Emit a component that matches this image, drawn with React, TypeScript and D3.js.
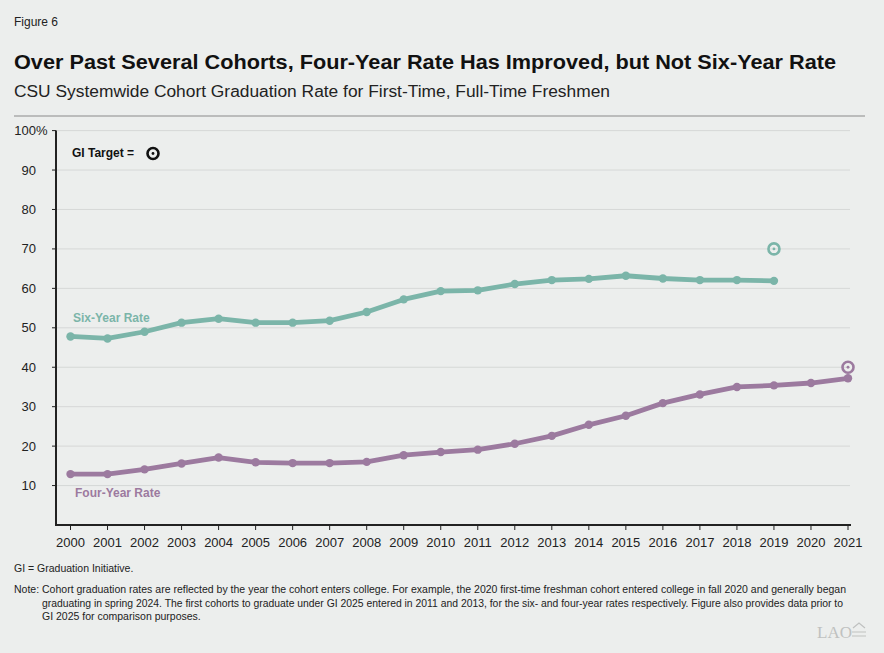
import React from 'react';
import * as d3 from 'd3';

const YEARS = [2000, 2001, 2002, 2003, 2004, 2005, 2006, 2007, 2008, 2009, 2010, 2011, 2012, 2013, 2014, 2015, 2016, 2017, 2018, 2019, 2020, 2021];
const SIX_YEAR = [47.8, 47.3, 49.0, 51.3, 52.3, 51.3, 51.3, 51.8, 54.0, 57.2, 59.3, 59.5, 61.1, 62.1, 62.4, 63.2, 62.5, 62.1, 62.1, 61.9];
const FOUR_YEAR = [12.9, 12.9, 14.1, 15.6, 17.1, 15.9, 15.7, 15.7, 16.0, 17.7, 18.5, 19.1, 20.6, 22.6, 25.4, 27.7, 30.9, 33.1, 35.0, 35.4, 36.0, 37.2];
const TARGETS = [
    { year: 2019, value: 70, series: 'six' },
    { year: 2021, value: 40, series: 'four' },
];
const Y_TICKS = [10, 20, 30, 40, 50, 60, 70, 80, 90, 100];

const TEAL = '#7bb5a9';
const PURPLE = '#9c7a9f';
const FONT = '"Liberation Sans", Arial, Helvetica, sans-serif';

const W = 884;
const H = 653;

const Target: React.FC<{ x: number; y: number; color: string }> = ({ x, y, color }) => (
    <g>
        <circle cx={x} cy={y} r={5.5} fill="none" stroke={color} strokeWidth={2.6} />
        <circle cx={x} cy={y} r={1.4} fill={color} />
    </g>
);

const App: React.FC = () => {
    const x = d3.scaleLinear().domain([2000, 2021]).range([70.5, 848]);
    const y = d3.scaleLinear().domain([0, 100]).range([525, 130.6]);
    const axisLeft = 56;

    const line = d3.line<number>()
        .x((_, i) => x(YEARS[i]))
        .y(d => y(d));

    const series = [
        { key: 'six', values: SIX_YEAR, color: TEAL },
        { key: 'four', values: FOUR_YEAR, color: PURPLE },
    ];

    return (
        <svg width={W} height={H} viewBox={`0 0 ${W} ${H}`} style={{ position: 'absolute', left: 0, top: 0, fontFamily: FONT }}>
            <rect x={0} y={0} width={W} height={H} fill="#eceeed" />

            <text x={14} y={26} fontSize="12px" fill="#222">Figure 6</text>
            <text x={14} y={69} fontSize="20px" fontWeight="bold" fill="#111" textLength={822} lengthAdjust="spacingAndGlyphs">
                Over Past Several Cohorts, Four-Year Rate Has Improved, but Not Six-Year Rate
            </text>
            <text x={14} y={97} fontSize="16px" fill="#222" textLength={596} lengthAdjust="spacingAndGlyphs">
                CSU Systemwide Cohort Graduation Rate for First-Time, Full-Time Freshmen
            </text>
            <line x1={14} x2={865} y1={116} y2={116} stroke="#8a8a8a" strokeWidth={1} />

            {Y_TICKS.map(t => (
                <g key={t}>
                    <line x1={axisLeft} x2={850} y1={y(t)} y2={y(t)} stroke="#d6d8d7" strokeWidth={1} />
                    <line x1={axisLeft - 4} x2={axisLeft} y1={y(t)} y2={y(t)} stroke="#222" strokeWidth={1} />
                    <text x={36} y={y(t) + 4.5} fontSize="13px" textAnchor="end" fill="#222">{t}</text>
                    {t === 100 && <text x={36} y={y(t) + 4.5} fontSize="13px" fill="#222">%</text>}
                </g>
            ))}

            <line x1={axisLeft} x2={axisLeft} y1={y(100)} y2={y(0)} stroke="#222" strokeWidth={2} />
            <line x1={axisLeft - 1} x2={851} y1={y(0)} y2={y(0)} stroke="#222" strokeWidth={2} />

            {YEARS.map(yr => (
                <g key={yr}>
                    <line x1={x(yr)} x2={x(yr)} y1={y(0)} y2={y(0) + 5} stroke="#222" strokeWidth={1} />
                    <text x={x(yr)} y={y(0) + 22} fontSize="13px" textAnchor="middle" fill="#222">{yr}</text>
                </g>
            ))}

            {series.map(s => (
                <g key={s.key}>
                    <path d={line(s.values) || ''} fill="none" stroke={s.color} strokeWidth={4.8} strokeLinejoin="round" />
                    {s.values.map((v, i) => (
                        <circle key={i} cx={x(YEARS[i])} cy={y(v)} r={4.2} fill={s.color} />
                    ))}
                </g>
            ))}

            {TARGETS.map(t => (
                <Target key={t.series} x={x(t.year)} y={y(t.value)} color={t.series === 'six' ? TEAL : PURPLE} />
            ))}

            <text x={73} y={322} fontSize="12px" fontWeight="bold" fill={TEAL}>Six-Year Rate</text>
            <text x={75} y={497} fontSize="12px" fontWeight="bold" fill={PURPLE}>Four-Year Rate</text>

            <text x={72} y={157} fontSize="12px" fontWeight="bold" fill="#111">GI Target =</text>
            <Target x={153} y={153.5} color="#111" />

            <text x={14} y={572} fontSize="10.5px" fill="#222">GI = Graduation Initiative.</text>
            <text fontSize="10.5px" fill="#222">
                <tspan x={14} y={593} textLength={832} lengthAdjust="spacingAndGlyphs">Note: Cohort graduation rates are reflected by the year the cohort enters college. For example, the 2020 first-time freshman cohort entered college in fall 2020 and generally began</tspan>
                <tspan x={42} y={607} textLength={801} lengthAdjust="spacingAndGlyphs">graduating in spring 2024. The first cohorts to graduate under GI 2025 entered in 2011 and 2013, for the six- and four-year rates respectively. Figure also provides data prior to</tspan>
                <tspan x={42} y={620}>GI 2025 for comparison purposes.</tspan>
            </text>

            <text x={852} y={638} fontSize="17px" textAnchor="end" fill="#bfc1c0" fontFamily='"Liberation Serif", serif'>LAO</text>
            <path d="M853,628 L859,623 L865,628 M852,632 L866,632 M852,636 L866,636" fill="none" stroke="#bfc1c0" strokeWidth={1.2} />
        </svg>
    );
};

export default App;
